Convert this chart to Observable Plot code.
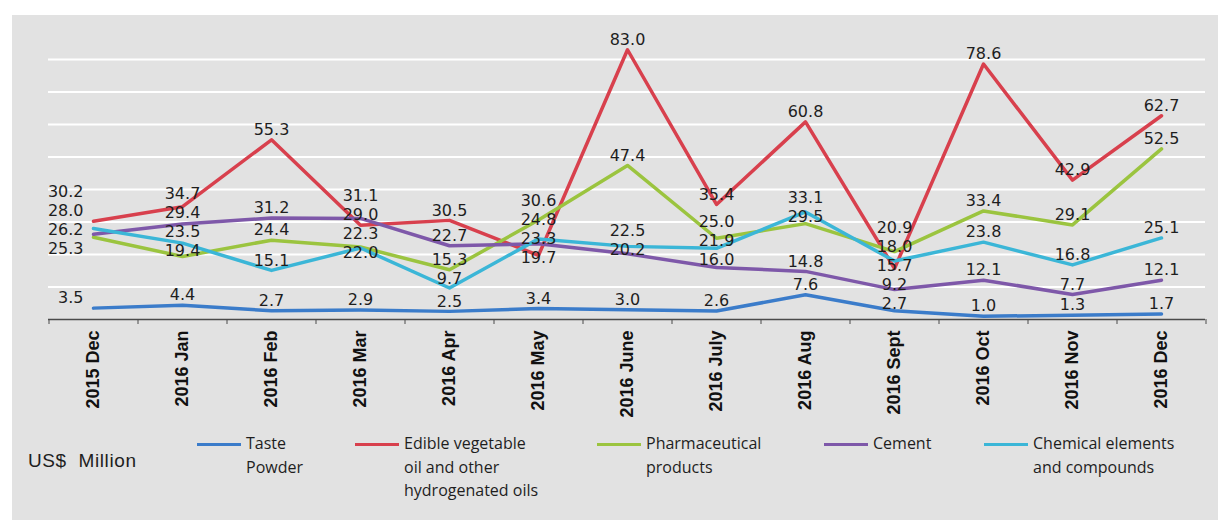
<!DOCTYPE html>
<html>
<head>
<meta charset="utf-8">
<script src="https://cdn.jsdelivr.net/npm/d3@7"></script>
<script src="https://cdn.jsdelivr.net/npm/@observablehq/plot@0.6"></script>
<style>
  body { margin: 0; background: #ffffff; }
  #wrap { position: relative; width: 1226px; height: 520px; overflow: hidden; }
  #panel { position: absolute; left: 12px; top: 15px; width: 1206px; height: 505px; background: #e2e2e2; }
  #chart { position: absolute; left: 0; top: 0; }
  #legend { position: absolute; left: 0; top: 430px; width: 1226px; height: 90px; color: #1e1e1e; }
  .unit { position: absolute; left: 28px; top: 20px; font-family: "Liberation Sans", Arial, sans-serif; font-size: 19px; white-space: pre; letter-spacing: 0.6px; }
  .sw { position: absolute; top: 13px; height: 3px; width: 44px; }
  .lt { position: absolute; top: 2px; font-family: "Open Sans", sans-serif; font-size: 16px; line-height: 23.5px; white-space: pre; }
</style>
</head>
<body>
<div id="wrap">
  <div id="panel"></div>
  <div id="chart"></div>
  <div id="legend"></div>
</div>
<script>
// ---- data ----
const months = ["2015 Dec", "2016 Jan", "2016 Feb", "2016 Mar", "2016 Apr", "2016 May", "2016 June",
                "2016 July", "2016 Aug", "2016 Sept", "2016 Oct", "2016 Nov", "2016 Dec"];
const tastePowder = [3.5, 4.4, 2.7, 2.9, 2.5, 3.4, 3.0, 2.6, 7.6, 2.7, 1.0, 1.3, 1.7];
const edibleOil   = [30.2, 34.7, 55.3, 29.0, 30.5, 19.7, 83.0, 35.4, 60.8, 15.7, 78.6, 42.9, 62.7];
const pharma      = [25.3, 19.4, 24.4, 22.3, 15.3, 30.6, 47.4, 25.0, 29.5, 20.9, 33.4, 29.1, 52.5];
const cement      = [26.2, 29.4, 31.2, 31.1, 22.7, 23.3, 20.2, 16.0, 14.8, 9.2, 12.1, 7.7, 12.1];
const chemical    = [28.0, 23.5, 15.1, 22.0, 9.7, 24.8, 22.5, 21.9, 33.1, 18.0, 23.8, 16.8, 25.1];
const seriesNames = ["Taste Powder", "Edible vegetable oil and other hydrogenated oils",
                     "Pharmaceutical products", "Cement", "Chemical elements and compounds"];
const legendLabels = ["Taste\nPowder", "Edible vegetable\noil and other\nhydrogenated oils",
                      "Pharmaceutical\nproducts", "Cement", "Chemical elements\nand compounds"];
const unitLabel = "US$  Million";
const gridValues = [10, 20, 30, 40, 50, 60, 70, 80];

// ---- styles / layout ----
const colors = ["#3b7cca", "#d8404d", "#9bc43f", "#7e58a9", "#3bb6d7"];
const W = 1226, H = 430, mT = 26.5, mB = 111, mL = 48, mR = 21;
const yDomain = [0, 90];
const step = (W - mL - mR) / months.length;
const legendLefts = [197, 355, 597, 824, 984];

const seriesValues = [tastePowder, edibleOil, pharma, cement, chemical];
const rows = [];
seriesValues.forEach((vals, s) => vals.forEach((v, i) => rows.push({series: seriesNames[s], month: months[i], idx: i, value: v})));

// label layout: avoid overlaps within each month column
const yScale = Plot.scale({y: {domain: yDomain, range: [H - mB, mT]}});
const gap = 19, lift = 10;
months.forEach((m, i) => {
  const items = rows.filter(r => r.idx === i).map(r => ({r, d: yScale.apply(r.value) - lift}));
  items.sort((a, b) => a.d - b.d);
  let clusters = items.map(it => ({items: [it], mean: it.d}));
  let changed = true;
  while (changed) {
    changed = false;
    for (let k = 0; k < clusters.length - 1; k++) {
      const a = clusters[k], b = clusters[k + 1];
      const aBottom = a.mean + (a.items.length - 1) * gap / 2;
      const bTop = b.mean - (b.items.length - 1) * gap / 2;
      if (bTop - aBottom < gap) {
        const its = a.items.concat(b.items);
        clusters.splice(k, 2, {items: its, mean: d3.mean(its, t => t.d)});
        changed = true;
        break;
      }
    }
  }
  clusters.forEach(c => c.items.forEach((t, j) => {
    t.r.labelY = yScale.invert(c.mean + (j - (c.items.length - 1) / 2) * gap);
  }));
});

const labelStyle = {fontFamily: "DejaVu Sans", fontSize: 16, fill: "#1e1e1e", lineAnchor: "middle"};

const chart = Plot.plot({
  width: W, height: H,
  marginTop: mT, marginBottom: mB, marginLeft: mL, marginRight: mR,
  style: {background: "transparent", fontFamily: "Liberation Sans, Arial, sans-serif", overflow: "visible"},
  x: {type: "point", domain: months, padding: 0.5, axis: null},
  y: {domain: yDomain, axis: null},
  color: {domain: seriesNames, range: colors},
  marks: [
    Plot.ruleY(gridValues, {stroke: "#ffffff", strokeWidth: 2}),
    Plot.line(rows, {x: "month", y: "value", z: "series", stroke: "series", strokeWidth: 3.5,
                     strokeLinejoin: "round", strokeLinecap: "round"}),
    Plot.ruleY([0], {stroke: "#4a4a4a", strokeWidth: 1.3}),
    Plot.axisX({ticks: months, tickSize: 0, tickRotate: -90, tickPadding: 11, fontSize: 18,
                fontWeight: "bold", fontFamily: "Liberation Sans, Arial", fill: "#111", label: null}),
    Plot.axisX({ticks: months, tickSize: 5, dx: -step / 2, tickFormat: () => "", stroke: "#4a4a4a", label: null}),
    Plot.axisX({ticks: [months[months.length - 1]], tickSize: 5, dx: step / 2, tickFormat: () => "", stroke: "#4a4a4a", label: null}),
    Plot.text(rows.filter(r => r.idx === 0), {x: "month", y: "labelY", text: r => r.value.toFixed(1),
                textAnchor: "end", dx: -10, ...labelStyle}),
    Plot.text(rows.filter(r => r.idx > 0), {x: "month", y: "labelY", text: r => r.value.toFixed(1),
                ...labelStyle})
  ]
});
document.getElementById("chart").appendChild(chart);

// ---- legend ----
const legend = document.getElementById("legend");
const unit = document.createElement("div");
unit.className = "unit";
unit.textContent = unitLabel;
legend.appendChild(unit);
legendLabels.forEach((lab, i) => {
  const sw = document.createElement("div");
  sw.className = "sw";
  sw.style.left = legendLefts[i] + "px";
  sw.style.background = colors[i];
  legend.appendChild(sw);
  const t = document.createElement("div");
  t.className = "lt";
  t.style.left = (legendLefts[i] + 49) + "px";
  t.textContent = lab;
  legend.appendChild(t);
});
</script>
</body>
</html>
